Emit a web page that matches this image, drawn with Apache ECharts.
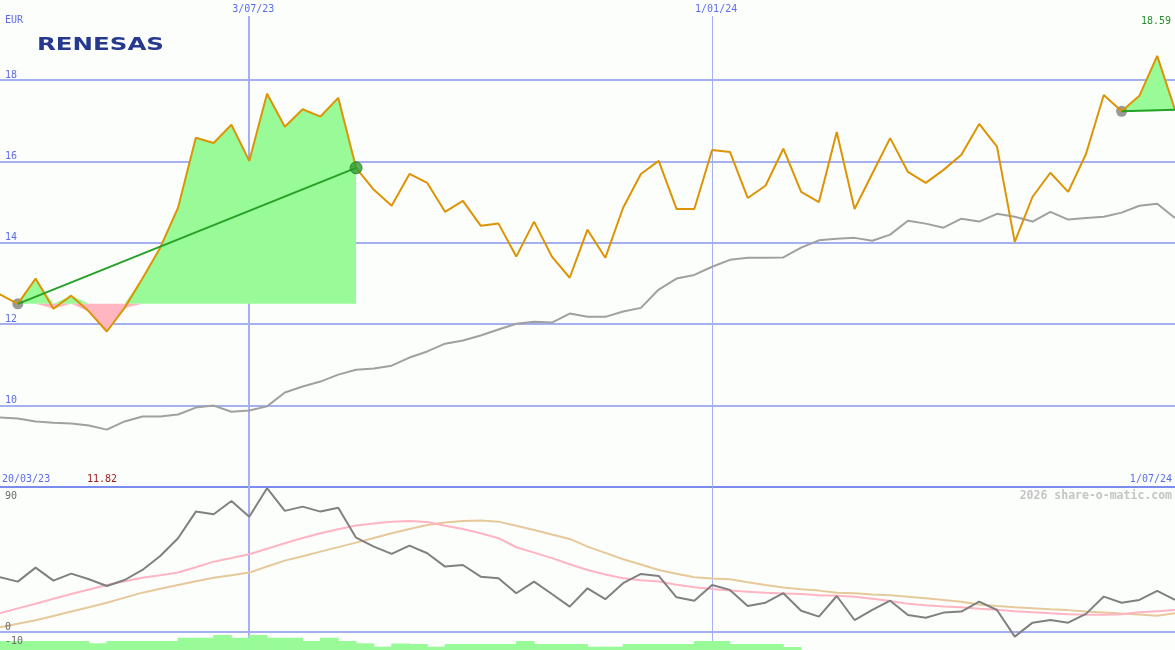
<!DOCTYPE html>
<html>
<head>
<meta charset="utf-8">
<title>Renesas</title>
<script src="https://cdn.jsdelivr.net/npm/echarts@6/dist/echarts.min.js"></script>
<style>
    html, body { margin: 0; padding: 0; background: #fcfefc; }
    #chart { width: 1175px; height: 650px; }
</style>
</head>
<body>
<div id="chart"></div>
<script>
// weekly data, 20/03/23 .. 1/07/24 (index 0..67)
var price = [12.95, 12.73, 12.50, 13.12, 12.38, 12.70, 12.31, 11.82, 12.40, 13.12,
    13.88, 14.86, 16.58, 16.45, 16.90, 16.01, 17.66, 16.85, 17.28, 17.10,
    17.56, 15.84, 15.30, 14.91, 15.69, 15.47, 14.76, 15.03, 14.42, 14.47,
    13.66, 14.52, 13.66, 13.14, 14.32, 13.63, 14.86, 15.69, 16.01, 14.83,
    14.83, 16.28, 16.23, 15.10, 15.40, 16.31, 15.25, 15.00, 16.72, 14.83,
    15.70, 16.57, 15.74, 15.47, 15.79, 16.16, 16.92, 16.36, 14.02, 15.13,
    15.72, 15.25, 16.18, 17.63, 17.23, 17.61, 18.59, 17.27];
var priceAvg = [9.72, 9.71, 9.68, 9.61, 9.58, 9.56, 9.51, 9.41, 9.61, 9.73,
    9.73, 9.78, 9.95, 10.00, 9.85, 9.88, 9.98, 10.32, 10.47, 10.59,
    10.76, 10.88, 10.91, 10.98, 11.18, 11.33, 11.52, 11.60, 11.72, 11.87,
    12.01, 12.06, 12.04, 12.26, 12.18, 12.18, 12.31, 12.40, 12.85, 13.12,
    13.21, 13.41, 13.58, 13.63, 13.63, 13.64, 13.88, 14.06, 14.10, 14.12,
    14.05, 14.20, 14.54, 14.47, 14.37, 14.59, 14.52, 14.71, 14.64, 14.52,
    14.76, 14.57, 14.61, 14.64, 14.74, 14.91, 14.96, 14.61];
var osc = [38.0, 37.6, 34.6, 44.2, 35.3, 40.1, 36.2, 31.6, 35.7, 42.6,
    52.2, 64.4, 82.7, 80.9, 90.0, 79.2, 98.8, 83.2, 86.1, 82.7,
    85.4, 64.8, 58.6, 53.6, 59.3, 54.1, 44.9, 46.0, 38.0, 36.9,
    26.6, 34.6, 26.1, 17.4, 30.0, 22.5, 33.5, 39.9, 38.5, 23.8,
    21.5, 32.3, 28.9, 17.9, 20.1, 26.6, 14.6, 10.5, 24.7, 8.2,
    15.1, 21.5, 11.7, 9.8, 13.3, 14.0, 20.8, 15.1, -3.2, 6.4,
    8.2, 6.4, 12.4, 24.3, 20.1, 22.0, 28.2, 22.0];
var oscFast = [9.5, 12.8, 16.2, 19.4, 22.8, 26.1, 29.2, 32.3, 34.8, 37.3,
    39.0, 40.8, 44.5, 48.3, 50.8, 53.4, 57.2, 61.0, 64.5, 67.8,
    70.5, 73.1, 74.6, 75.8, 76.2, 75.5, 73.0, 70.8, 67.8, 64.4,
    58.2, 54.5, 50.7, 46.5, 42.6, 39.5, 36.9, 35.5, 34.6, 32.5,
    30.7, 29.5, 28.4, 27.7, 27.0, 26.5, 26.0, 25.3, 24.9, 24.2,
    22.8, 21.3, 19.3, 18.3, 17.5, 17.0, 16.0, 15.2, 14.3, 13.6,
    12.8, 12.2, 11.8, 11.8, 12.2, 13.5, 14.3, 15.1];
var oscSlow = [0.5, 3.2, 5.7, 8.0, 11.0, 14.0, 17.0, 20.1, 23.6, 27.0,
    29.7, 32.3, 34.8, 37.3, 39.0, 40.8, 45.0, 49.0, 52.0, 55.2,
    58.3, 61.4, 64.6, 67.8, 70.8, 73.5, 75.2, 76.3, 76.5, 75.8,
    73.0, 70.1, 67.0, 63.9, 58.6, 54.3, 50.0, 46.3, 42.6, 40.0,
    37.6, 36.8, 36.2, 34.2, 32.3, 30.5, 29.3, 28.4, 27.0, 26.6,
    25.8, 25.2, 24.2, 23.2, 22.0, 20.8, 18.8, 17.8, 17.0, 16.3,
    15.6, 15.0, 14.0, 13.4, 12.6, 12.0, 11.2, 12.9];
var volume = [9, 9, 9, 9, 9, 9, 6.7, 9, 9, 9,
    9, 12.3, 12.3, 15, 12.3, 15, 12.3, 12.3, 9, 12.3,
    9, 6.7, 3.3, 6.5, 6, 3.3, 6, 6, 6, 6,
    9, 6, 6, 6, 3.3, 3.3, 6, 6, 6, 6,
    9, 9, 6, 6, 6, 3, 0, 0, 0, 0,
    0, 0, 0, 0, 0, 0, 0, 0, 0, 0,
    0, 0, 0, 0, 0, 0, 0, 0];
var dateLabels = ['20/03/23', '3/07/23', '1/01/24', '1/07/24'];
var dateIndex = [0, 15, 41, 67];
var oscLabels = [90, 0, -10];
var trades = [{from: 2, to: 21}, {from: 64, to: 67}];
var lowLabel = '11.82';
var highLabel = '18.59';

var FONT = '"DejaVu Sans Mono", monospace';
var BLUE = '#5d6ce8';
var GRIDC = '#a4b0f0';
var GREEN_FILL = '#98fb98';
var PINK_FILL = '#ffb6c1';

function pts(arr, a, b) {
    var out = [];
    for (var i = a; i <= b; i++) out.push([i, arr[i]]);
    return out;
}

var chart = echarts.init(document.getElementById('chart'));

function xAx(gi, showLine) {
    return {
        type: 'value', gridIndex: gi, min: 1, max: 67,
        axisLabel: {show: false}, axisTick: {show: false}, splitLine: {show: false},
        axisLine: {show: !!showLine, onZero: false, lineStyle: {color: '#7b8bef', width: 2}}
    };
}

var dateLines = function (withLabel) {
    return [1, 2].map(function (k) {
        return {
            xAxis: dateIndex[k],
            lineStyle: {color: GRIDC, width: k === 1 ? 2 : 1, type: 'solid'},
            label: {show: withLabel, position: 'end', distance: 2, offset: [4, 0], formatter: dateLabels[k],
                color: BLUE, fontFamily: FONT, fontSize: 10}
        };
    });
};

var series = [];
// empty holder for the date lines so they sit under the fills
series.push({
    type: 'line', xAxisIndex: 0, yAxisIndex: 0, z: 1, data: [],
    markLine: {silent: true, z: 1, symbol: 'none', data: dateLines(true)}
});
// trade fills: green above entry price, pink below
trades.forEach(function (t) {
    var base = price[t.from];
    [[GREEN_FILL, Math.max], [PINK_FILL, Math.min]].forEach(function (f) {
        series.push({
            type: 'line', xAxisIndex: 0, yAxisIndex: 0, z: 6,
            data: pts(price, t.from, t.to).map(function (p) { return [p[0], f[1](p[1], base)]; }),
            symbol: 'none',
            lineStyle: {width: 0, opacity: 0},
            areaStyle: {origin: base, opacity: 1, color: f[0]},
            silent: true
        });
    });
});
// moving average on price
series.push({
    type: 'line', xAxisIndex: 0, yAxisIndex: 0, z: 6,
    data: pts(priceAvg, 0, 67), symbol: 'none',
    lineStyle: {color: '#a0a0a0', width: 2}
});
// entry dots
series.push({
    type: 'scatter', xAxisIndex: 0, yAxisIndex: 0, z: 7,
    data: trades.map(function (t) { return [t.from, price[t.from]]; }),
    symbolSize: 11, itemStyle: {color: '#808080'}
});
// price
series.push({
    type: 'line', xAxisIndex: 0, yAxisIndex: 0, z: 8,
    data: pts(price, 0, 67), symbol: 'none',
    lineStyle: {color: '#dc9405', width: 2}
});
// trade lines
trades.forEach(function (t) {
    series.push({
        type: 'line', xAxisIndex: 0, yAxisIndex: 0, z: 9,
        data: [[t.from, price[t.from]], [t.to, price[t.to]]], symbol: 'none',
        lineStyle: {color: '#26a126', width: 2}
    });
});
// exit dot of closed trade
series.push({
    type: 'scatter', xAxisIndex: 0, yAxisIndex: 0, z: 10,
    data: [[trades[0].to, price[trades[0].to]]],
    symbolSize: 12, itemStyle: {color: '#2e9a2e', borderColor: '#1f7a1f', borderWidth: 1}
});
// volume
series.push({
    type: 'bar', xAxisIndex: 2, yAxisIndex: 2, z: 2,
    data: volume.map(function (v, i) { return [i + 0.5, v]; }),
    barWidth: 18.6, itemStyle: {color: GREEN_FILL}, silent: true
});
// oscillator and its averages
series.push({
    type: 'line', xAxisIndex: 1, yAxisIndex: 1, z: 3,
    data: pts(oscSlow, 0, 67), symbol: 'none',
    lineStyle: {color: '#e6c99a', width: 2}
});
series.push({
    type: 'line', xAxisIndex: 1, yAxisIndex: 1, z: 3,
    data: pts(oscFast, 0, 67), symbol: 'none',
    lineStyle: {color: '#ffb4c4', width: 2}
});
series.push({
    type: 'line', xAxisIndex: 1, yAxisIndex: 1, z: 4,
    data: pts(osc, 0, 67), symbol: 'none',
    lineStyle: {color: '#808080', width: 2},
    markLine: {
        silent: true, z: 1, symbol: 'none',
        data: [{yAxis: 0, lineStyle: {color: GRIDC, width: 2, type: 'solid'}, label: {show: false}}]
            .concat(dateLines(false))
    }
});

var option = {
    backgroundColor: '#fcfefc',
    animation: false,
    grid: [
        {left: 0, right: 0, top: 16, height: 471},
        {left: 0, right: 0, top: 487, height: 163},
        {left: 0, right: 0, top: 610, height: 40}
    ],
    xAxis: [xAx(0, true), xAx(1), xAx(2)],
    yAxis: [
        {
            type: 'value', gridIndex: 0, min: 8, max: 19.57, interval: 2,
            axisLine: {show: false}, axisTick: {show: false},
            axisLabel: {inside: true, margin: 5, verticalAlign: 'bottom', color: BLUE,
                fontFamily: FONT, fontSize: 10, showMinLabel: false, showMaxLabel: false},
            splitLine: {show: true, showMinLine: false, showMaxLine: false,
                lineStyle: {color: GRIDC, width: 2}}
        },
        {
            type: 'value', gridIndex: 1, min: -12.4, max: 99.6, z: 20,
            axisLine: {show: false}, axisTick: {show: false}, splitLine: {show: false},
            axisLabel: {inside: true, margin: 5, verticalAlign: 'bottom', color: '#6a6a6a',
                fontFamily: FONT, fontSize: 10, customValues: oscLabels}
        },
        {type: 'value', gridIndex: 2, min: 0, max: 40, show: false}
    ],
    graphic: [
        {type: 'text', x: 5, y: 15, style: {text: 'EUR', font: '10px ' + FONT, fill: BLUE}},
        {type: 'text', x: 37, y: 36, scaleX: 1.36,
            style: {text: 'RENESAS', font: 'bold 18px "DejaVu Sans"', fill: '#26398e'}},
        {type: 'text', x: 1171, y: 16, style: {text: highLabel, font: '10px ' + FONT, fill: '#2a8c2a', align: 'right'}},
        {type: 'text', x: 2, y: 474, style: {text: dateLabels[0], font: '10px ' + FONT, fill: BLUE}},
        {type: 'text', x: 87, y: 474, style: {text: lowLabel, font: '10px ' + FONT, fill: '#a01c1c'}},
        {type: 'text', x: 1172, y: 474, style: {text: dateLabels[3], font: '10px ' + FONT, fill: BLUE, align: 'right'}},
        {type: 'text', x: 1172, y: 490, style: {text: '2026 share-o-matic.com', font: 'bold 11.5px ' + FONT, fill: '#c4c4c4', align: 'right'}}
    ],
    series: series
};

chart.setOption(option);
window.addEventListener('resize', function () { chart.resize(); });
</script>
</body>
</html>
